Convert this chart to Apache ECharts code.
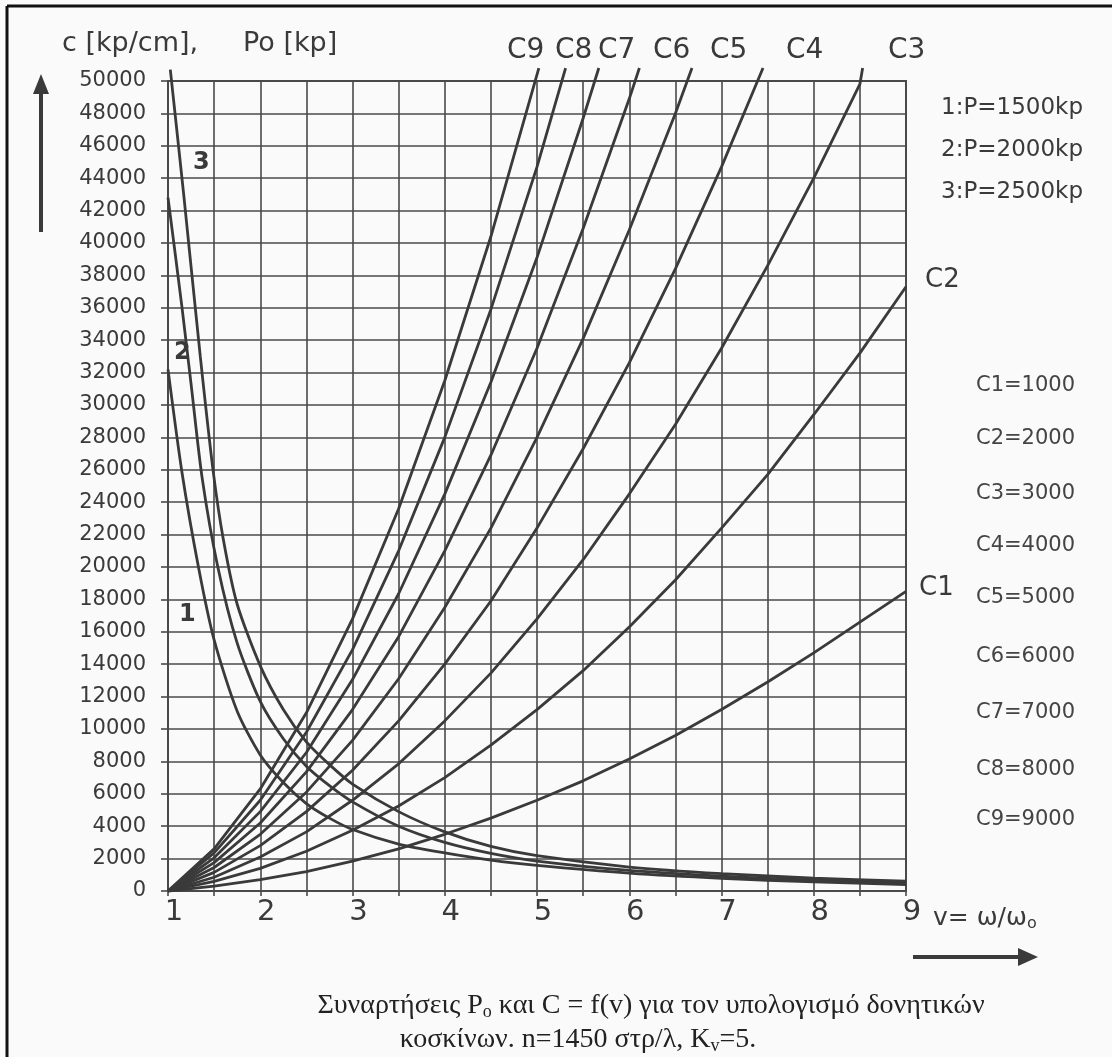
<!DOCTYPE html>
<html>
<head>
<meta charset="utf-8">
<script src="https://cdn.jsdelivr.net/npm/echarts@6/dist/echarts.min.js"></script>
<style>
html, body { margin: 0; padding: 0; background: #fafafa; }
#chart { width: 1112px; height: 1057px; }
</style>
</head>
<body>
<div id="chart"></div>
<script>
// v = omega/omega0 sample points for the C curves
const vC = [1, 1.5, 2, 2.5, 3, 3.5, 4, 4.5, 5, 5.5, 6, 6.5, 7, 7.5, 8, 8.5, 9];

// spring stiffness c [kp/cm]
const c1 = [0, 300, 700, 1200, 1850, 2600, 3500, 4500, 5600, 6800, 8150, 9600, 11200, 12900, 14700, 16600, 18500];
const c2 = [0, 600, 1400, 2450, 3750, 5250, 7000, 9000, 11200, 13600, 16300, 19200, 22400, 25700, 29400, 33200, 37300];
const c3 = [0, 850, 2100, 3650, 5600, 7850, 10500, 13450, 16800, 20450, 24500, 28800, 33500, 38600, 44000, 49800];
const c4 = [0, 1150, 2800, 4900, 7450, 10500, 14000, 17900, 22400, 27300, 32600, 38400, 44700];
const c5 = [0, 1450, 3500, 6100, 9300, 13100, 17500, 22400, 28000, 34100, 40800, 48000];
const c6 = [0, 1750, 4200, 7350, 11200, 15700, 21000, 26900, 33500, 40900, 48900];
const c7 = [0, 2050, 4900, 8550, 13050, 18350, 24500, 31400, 39100, 47700];
const c8 = [0, 2350, 5600, 9800, 14900, 21000, 28000, 35900, 44700];
const c9 = [0, 2600, 6300, 11000, 16800, 23600, 31500, 40400];
// where each C curve leaves the top of the frame
const cEndV = [null, null, 8.53, 7.45, 6.68, 6.11, 5.67, 5.31, 5.02];
const cEndY = 50800;
const cNames = ['C1', 'C2', 'C3', 'C4', 'C5', 'C6', 'C7', 'C8', 'C9'];

// Po [kp] curves 1..3
const p1V = [1, 1.15, 1.33, 1.5, 1.75, 2, 2.25, 2.5, 2.75, 3, 3.5, 4, 4.5, 5, 6, 7, 8, 9];
const p1 = [32200, 25900, 20000, 15500, 11100, 8400, 6700, 5400, 4500, 3800, 2900, 2350, 1900, 1580, 1100, 780, 560, 400];
const p2V = [1, 1.15, 1.25, 1.37, 1.54, 1.75, 2, 2.25, 2.5, 2.75, 3, 3.5, 4, 4.5, 5, 6, 7, 8, 9];
const p2 = [42800, 36100, 31300, 25500, 20000, 15300, 11700, 9400, 7700, 6500, 5500, 4000, 3000, 2320, 1850, 1270, 910, 670, 500];
const p3V = [1.025, 1.17, 1.35, 1.49, 1.6, 1.75, 2, 2.25, 2.5, 2.75, 3, 3.5, 4, 4.5, 5, 6, 7, 8, 9];
const p3 = [50700, 43000, 33000, 25900, 21700, 17700, 13900, 11200, 9200, 7800, 6600, 4900, 3650, 2750, 2180, 1480, 1070, 800, 610];

const pLegend = ['1:P=1500kp', '2:P=2000kp', '3:P=2500kp'];
const cLegend = ['C1=1000', 'C2=2000', 'C3=3000', 'C4=4000', 'C5=5000', 'C6=6000', 'C7=7000', 'C8=8000', 'C9=9000'];

const ink = '#3a3a3a';
const gridInk = '#4a4a4a';
const sans = 'DejaVu Sans';

const lineStyle = { color: ink, width: 2.8 };

const pairs = (xs, ys) => ys.map((y, i) => [xs[i], y]);

const series = [];
[c1, c2, c3, c4, c5, c6, c7, c8, c9].forEach((vals, i) => {
    const data = pairs(vC, vals);
    if (cEndV[i] !== null) data.push([cEndV[i], cEndY]);
    series.push({
        name: cNames[i],
        type: 'line',
        data: data,
        showSymbol: false,
        clip: false,
        lineStyle: lineStyle,
        silent: true
    });
});
[[p1V, p1], [p2V, p2], [p3V, p3]].forEach((d, i) => {
    series.push({
        name: 'P' + (i + 1),
        type: 'line',
        data: pairs(d[0], d[1]),
        showSymbol: false,
        smooth: 0.25,
        clip: false,
        lineStyle: lineStyle,
        silent: true
    });
});

//texts round the plot
const txt = (x, y, text, size, extra) => ({
    type: 'text',
    x: x,
    y: y,
    style: Object.assign({
        text: text,
        fill: ink,
        font: size + 'px "' + sans + '"',
        textVerticalAlign: 'middle'
    }, extra || {})
});

const graphic = [
    // page frame (top and left edge of the scan)
    { type: 'line', shape: { x1: 7, y1: 6, x2: 1112, y2: 6 }, style: { stroke: '#111', lineWidth: 3 } },
    { type: 'line', shape: { x1: 7, y1: 6, x2: 7, y2: 1057 }, style: { stroke: '#111', lineWidth: 3 } },
    // y arrow
    { type: 'line', shape: { x1: 41, y1: 232, x2: 41, y2: 90 }, style: { stroke: ink, lineWidth: 4 } },
    { type: 'polygon', shape: { points: [[41, 74], [33, 94], [49, 94]] }, style: { fill: ink } },
    // v arrow
    { type: 'line', shape: { x1: 913, y1: 957, x2: 1022, y2: 957 }, style: { stroke: ink, lineWidth: 4 } },
    { type: 'polygon', shape: { points: [[1038, 957], [1018, 948], [1018, 966]] }, style: { fill: ink } },
    txt(62, 44, 'c [kp/cm],', 27),
    txt(243, 44, 'Po [kp]', 27),
    // curve numbers
    txt(193, 163, '3', 24, { font: 'bold 24px "' + sans + '"' }),
    txt(174, 353, '2', 24, { font: 'bold 24px "' + sans + '"' }),
    txt(179, 615, '1', 24, { font: 'bold 24px "' + sans + '"' }),
    // C labels at the line ends
    txt(925, 280, 'C2', 26),
    txt(919, 588, 'C1', 26),
    {
        type: 'text',
        x: 933, y: 918,
        style: {
            text: '{a|v= ω/ω}{s|o}',
            textVerticalAlign: 'middle',
            rich: {
                a: { fontFamily: sans, fontSize: 25, fill: ink },
                s: { fontFamily: sans, fontSize: 16, fill: ink, padding: [12, 0, 0, 0] }
            }
        }
    },
    {
        type: 'text',
        x: 651, y: 1006,
        style: {
            text: '{a|Συναρτήσεις P}{s|o}{a| και C = f(v) για τον υπολογισμό δονητικών}',
            textAlign: 'center',
            textVerticalAlign: 'middle',
            rich: {
                a: { fontFamily: 'Liberation Serif', fontSize: 28, fill: '#222' },
                s: { fontFamily: 'Liberation Serif', fontSize: 18, fill: '#222', padding: [12, 0, 0, 0] }
            }
        }
    },
    {
        type: 'text',
        x: 578, y: 1040,
        style: {
            text: '{a|κοσκίνων. n=1450 στρ/λ, K}{s|v}{a|=5.}',
            textAlign: 'center',
            textVerticalAlign: 'middle',
            rich: {
                a: { fontFamily: 'Liberation Serif', fontSize: 28, fill: '#222' },
                s: { fontFamily: 'Liberation Serif', fontSize: 18, fill: '#222', padding: [12, 0, 0, 0] }
            }
        }
    }
];

const topLabelX = [null, null, 888, 786, 710, 653, 598, 555, 507];
topLabelX.forEach((x, i) => {
    if (x !== null) graphic.push(txt(x, 51, cNames[i], 28));
});
pLegend.forEach((t, i) => graphic.push(txt(941, 108 + i * 42, t, 23)));
const cLegendY = [386, 439, 494, 546, 598, 657, 713, 770, 820];
cLegend.forEach((t, i) => graphic.push(txt(976, cLegendY[i], t, 21, { fill: '#444' })));

const chart = echarts.init(document.getElementById('chart'), null, { renderer: 'canvas' });
chart.setOption({
    backgroundColor: '#fafafa',
    animation: false,
    grid: {
        left: 168,
        right: 206,
        top: 81,
        bottom: 166,
        show: true,
        borderColor: gridInk,
        borderWidth: 2
    },
    xAxis: {
        type: 'value',
        min: 1,
        max: 9,
        interval: 0.5,
        axisLine: { show: true, lineStyle: { color: gridInk, width: 2 } },
        axisTick: { show: true, length: 5, lineStyle: { color: gridInk, width: 1.6 } },
        splitLine: { show: true, lineStyle: { color: gridInk, width: 1.6 } },
        axisLabel: {
            color: ink,
            fontFamily: sans,
            fontSize: 29,
            margin: 7,
            padding: [0, 0, 0, 12],
            formatter: v => (Number.isInteger(v) ? String(v) : '')
        }
    },
    yAxis: {
        type: 'value',
        min: 0,
        max: 50000,
        interval: 2000,
        axisLine: { show: true, lineStyle: { color: gridInk, width: 2 } },
        axisTick: { show: true, length: 7, lineStyle: { color: gridInk, width: 1.6 } },
        splitLine: { show: true, lineStyle: { color: gridInk, width: 1.6 } },
        axisLabel: {
            color: ink,
            fontFamily: sans,
            fontSize: 21,
            margin: 22,
            formatter: v => String(v)
        }
    },
    series: series,
    graphic: graphic
});
</script>
</body>
</html>
